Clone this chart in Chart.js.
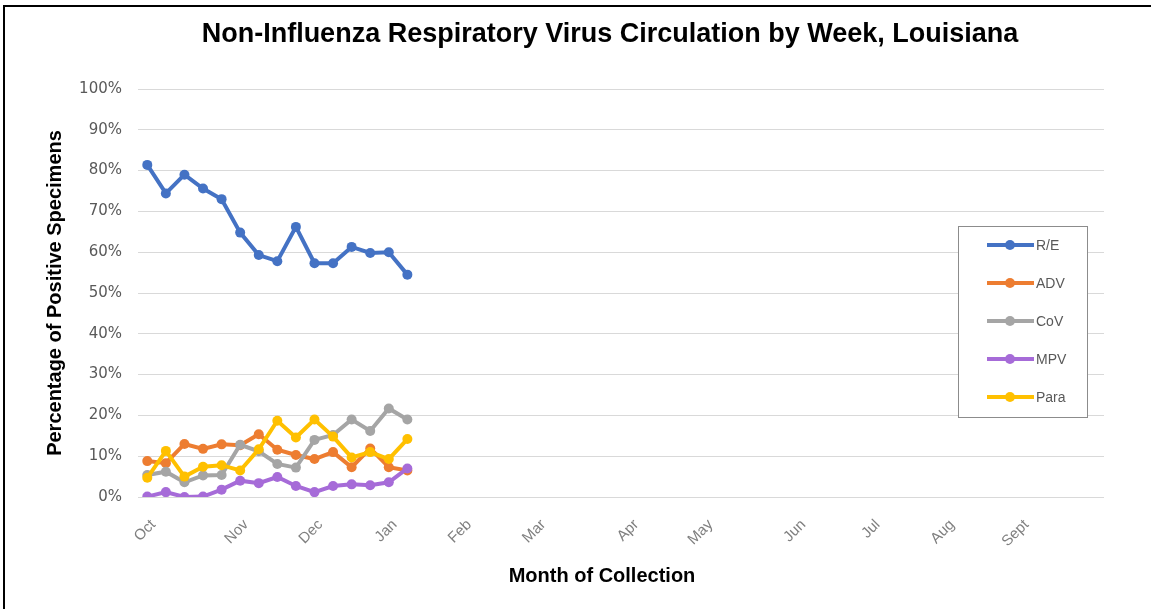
<!DOCTYPE html>
<html>
<head>
<meta charset="utf-8">
<title>Non-Influenza Respiratory Virus Circulation by Week, Louisiana</title>
<script src="https://cdn.jsdelivr.net/npm/chart.js@4.4.1/dist/chart.umd.min.js"></script>
<style>
  html, body { margin: 0; padding: 0; background: #fff; overflow: hidden; }
  #wrap { position: relative; width: 1151px; height: 609px; overflow: hidden; }
  #chart { display: block; }
  #frame {
    position: absolute; left: 3px; top: 5px; width: 1200px; height: 700px;
    border-top: 2px solid #000; border-left: 2px solid #000;
    pointer-events: none;
  }
</style>
</head>
<body>
<div id="wrap">
  <canvas id="chart"></canvas>
  <div id="frame"></div>
</div>
<script>
// weeks of the season, Oct -> Sept
const WEEK_COUNT = 52;
const monthNames = ['Oct', 'Nov', 'Dec', 'Jan', 'Feb', 'Mar', 'Apr', 'May', 'Jun', 'Jul', 'Aug', 'Sept'];
const monthStartWeek = [0, 5, 9, 13, 17, 21, 26, 30, 35, 39, 43, 47];

const seriesNames = ['R/E', 'ADV', 'CoV', 'MPV', 'Para'];
const seriesColors = ['#4472C4', '#ED7D31', '#A5A5A5', '#A66BD8', '#FFC000'];

// percent positive, one value per week so far
const reValues   = [81.4, 74.4, 79.0, 75.6, 73.0, 64.8, 59.3, 57.8, 66.2, 57.3, 57.3, 61.3, 59.8, 60.0, 54.5];
const advValues  = [8.8, 8.3, 13.0, 11.8, 12.9, 12.7, 15.4, 11.6, 10.3, 9.3, 11.0, 7.3, 11.9, 7.3, 6.5];
const covValues  = [5.4, 6.2, 3.6, 5.3, 5.4, 12.8, 11.2, 8.1, 7.2, 14.0, 15.2, 19.0, 16.2, 21.7, 19.0];
const mpvValues  = [0.1, 1.2, 0.0, 0.1, 1.8, 4.0, 3.4, 4.9, 2.7, 1.2, 2.7, 3.1, 2.9, 3.6, 7.0];
const paraValues = [4.7, 11.3, 5.0, 7.4, 7.8, 6.5, 11.7, 18.7, 14.6, 19.0, 14.8, 9.7, 11.0, 9.3, 14.2];

const yTicks = [0, 10, 20, 30, 40, 50, 60, 70, 80, 90, 100];

const weekLabels = [];
for (let i = 0; i < WEEK_COUNT; i++) {
  const m = monthStartWeek.indexOf(i);
  weekLabels.push(m >= 0 ? monthNames[m] : '');
}

const allValues = [reValues, advValues, covValues, mpvValues, paraValues];

const datasets = seriesNames.map((name, i) => ({
  label: name,
  data: allValues[i],
  borderColor: seriesColors[i],
  backgroundColor: seriesColors[i],
  pointBackgroundColor: seriesColors[i],
  pointBorderColor: seriesColors[i],
  borderWidth: 4,
  pointRadius: 5,
  pointBorderWidth: 0,
  tension: 0,
  fill: false,
  order: seriesNames.length - i // later series drawn on top, like Excel
}));

const FONT = "'Liberation Sans', Arial, sans-serif";

// chart title and x title drawn by hand so they sit off-centre like the original
const titlePlugin = {
  id: 'sheetTitle',
  afterDraw(chart) {
    const ctx = chart.ctx;
    ctx.save();
    ctx.fillStyle = '#000';
    ctx.textAlign = 'center';
    ctx.textBaseline = 'middle';
    ctx.font = 'bold 27px ' + FONT;
    ctx.fillText('Non-Influenza Respiratory Virus Circulation by Week, Louisiana', 610, 35);
    ctx.font = 'bold 20px ' + FONT;
    ctx.fillText('Month of Collection', 602, 576);
    ctx.restore();
  }
};

// boxed legend inside the plot, on the right
const boxLegend = {
  id: 'boxLegend',
  afterDraw(chart) {
    const ctx = chart.ctx;
    const x = 958, y = 226, w = 129, h = 191;
    ctx.save();
    ctx.fillStyle = '#fff';
    ctx.fillRect(x, y, w, h);
    ctx.strokeStyle = '#8c8c8c';
    ctx.lineWidth = 1;
    ctx.strokeRect(x + 0.5, y + 0.5, w, h);
    ctx.font = '14px ' + FONT;
    ctx.textBaseline = 'middle';
    chart.data.datasets.forEach((ds, i) => {
      const cy = 245 + i * 38;
      ctx.strokeStyle = ds.borderColor;
      ctx.lineWidth = 4;
      ctx.beginPath();
      ctx.moveTo(987, cy);
      ctx.lineTo(1034, cy);
      ctx.stroke();
      ctx.fillStyle = ds.borderColor;
      ctx.beginPath();
      ctx.arc(1010, cy, 5, 0, Math.PI * 2);
      ctx.fill();
      ctx.fillStyle = '#595959';
      ctx.fillText(ds.label, 1036, cy + 1);
    });
    ctx.restore();
  }
};

new Chart(document.getElementById('chart'), {
  type: 'line',
  data: { labels: weekLabels, datasets },
  plugins: [titlePlugin, boxLegend],
  options: {
    responsive: true,
    maintainAspectRatio: false,
    animation: false,
    layout: { padding: { left: 8, right: 47, top: 89, bottom: 0 } },
    plugins: {
      legend: { display: false },
      tooltip: { enabled: false }
    },
    scales: {
      x: {
        offset: true,
        grid: { display: false, drawTicks: false },
        border: { display: false },
        ticks: {
          autoSkip: false,
          minRotation: 45,
          maxRotation: 45,
          padding: 19,
          labelOffset: 6,
          color: '#7f7f7f',
          font: { family: FONT, size: 15 }
        },
        afterFit(scale) { scale.height = 112; }
      },
      y: {
        min: 0,
        max: 100,
        afterBuildTicks(scale) { scale.ticks = yTicks.map(v => ({ value: v })); },
        grid: { color: '#d9d9d9', lineWidth: 1, drawTicks: false },
        border: { display: false },
        ticks: {
          padding: 16,
          color: '#595959',
          font: { family: "'DejaVu Sans', sans-serif", size: 15 },
          callback: v => v + '%'
        },
        title: {
          display: true,
          text: 'Percentage of Positive Specimens',
          color: '#000',
          font: { family: FONT, size: 20, weight: 'bold' },
          padding: { top: 35, bottom: 0 }
        },
        afterFit(scale) { scale.width = 130; }
      }
    }
  }
});
</script>
</body>
</html>
